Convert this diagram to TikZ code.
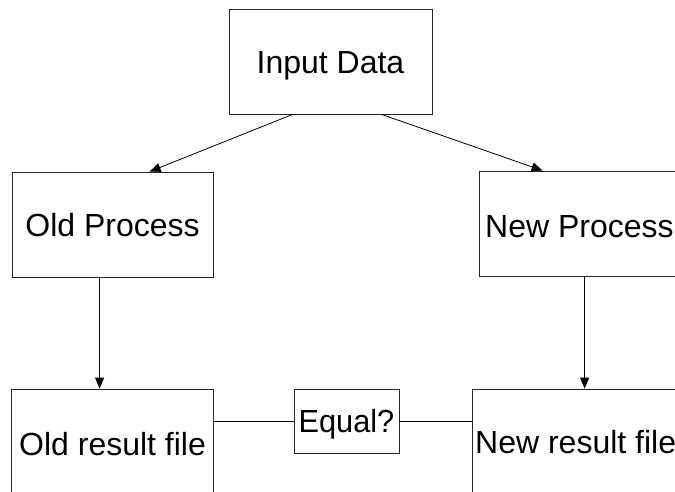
\documentclass[tikz,border=0pt]{standalone}
\usepackage{fontspec}
\setmainfont{Liberation Sans}
\usetikzlibrary{arrows.meta,calc}
\begin{document}
\begin{tikzpicture}[x=1pt,y=-1pt,
  txt/.style={font=\fontsize{32}{38}\selectfont},
  box/.style={txt,draw=black!85,line width=0.8pt,rectangle,inner sep=0pt,
              text height=23pt,text depth=0pt},
  lbl/.style={txt,inner sep=0pt,anchor=base west},
  conn/.style={draw=black,line width=0.8pt},
  arr/.style={conn,-{Triangle[length=11pt,width=9pt]}}]
\useasboundingbox (0,0) rectangle (675,491);
\clip (0,0) rectangle (675,491);

% top source
\node[box,minimum width=203pt,minimum height=105pt] (inp) at (330.5,61.5) {Input Data};

% the two processes
\node[box,minimum width=201pt,minimum height=105pt] (oldp) at (112.5,224.5) {Old Process};
\node[box,minimum width=230pt,minimum height=105pt] (newp) at (594,223.5) {};
\node[lbl] (newpt) at (485,237.5) {New Process};

% result files and the comparison
\node[box,minimum width=202pt,minimum height=130pt] (oldr) at (112,454) {};
\node[lbl] (oldrt) at (19,455) {Old result file};
\node[box,minimum width=105pt,minimum height=64pt] (eq) at (346.5,421)
  {\scalebox{0.96}[1]{Equal?}};
\node[box,minimum width=230pt,minimum height=130pt] (newr) at (587,454) {};
\node[lbl] (newrt) at (475,453) {New result file};

% connectors
\draw[arr] ($(inp.south west)+(64,0)$) -- ($(oldp.north west)+(138,0)$);
\draw[arr] ($(inp.south west)+(153,0)$) -- ($(newp.north west)+(64,0)$);
\draw[arr] ($(oldp.south west)+(88,0)$) coordinate (od) -- (od |- oldr.north);
\draw[arr] ($(newp.south west)+(106,0)$) coordinate (nd) -- (nd |- newr.north);
\draw[conn] (oldr.east |- eq.west) -- (eq.west);
\draw[conn] (eq.east) -- (eq.east -| newr.west);
\end{tikzpicture}
\end{document}
